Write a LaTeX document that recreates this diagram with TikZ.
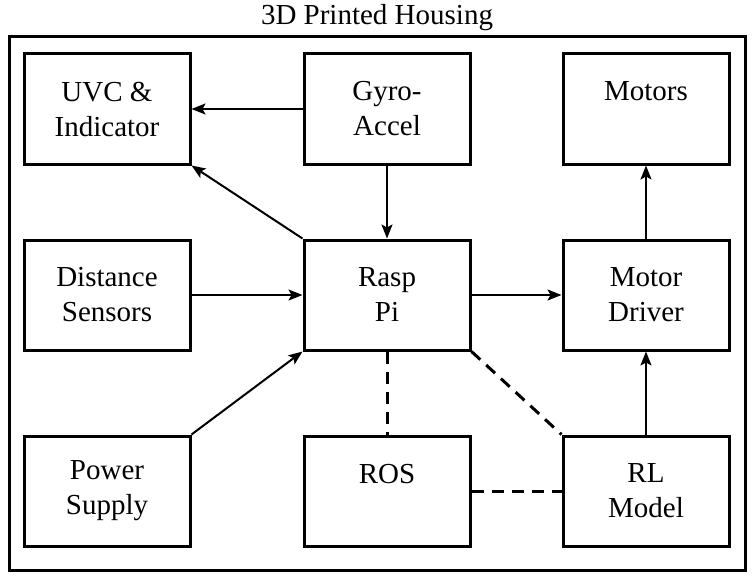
\documentclass[tikz,border=0pt]{standalone}
\usepackage{fontspec}
\setmainfont{Liberation Serif}
\usetikzlibrary{arrows.meta}
\begin{document}
\begin{tikzpicture}[x=1pt,y=-1pt,
  blk/.style={draw, line width=3pt, minimum width=166pt, minimum height=110pt, align=center, font=\fontsize{29}{35}\selectfont, inner sep=0pt},
  arr/.style={line width=2pt, -{Stealth[length=14pt,width=11pt,inset=3pt]}},
  dsh/.style={line width=3pt, dash pattern=on 12pt off 8pt}]
\useasboundingbox (0,0) rectangle (753,578);
\node[font=\fontsize{29}{35}\selectfont] (title) at (377,18) {3D Printed Housing};
\node[draw, line width=3pt, minimum width=736pt, minimum height=533pt, inner sep=0pt] (frame) at (377,303.5) {};
\node[blk] (uvc) at (107,109) {UVC \&\\Indicator};
\node[blk] (gyro) at (387,109) {Gyro-\\Accel};
\node[blk] (motors) at (646,109) {Motors\\\phantom{M}};
\node[blk] (dist) at (107,295) {Distance\\Sensors};
\node[blk] (rasp) at (387,295) {Rasp\\Pi};
\node[blk] (driver) at (646,295) {Motor\\Driver};
\node[blk] (power) at (107,491) {Power\\Supply};
\node[blk] (ros) at (387,491) {ROS\\\phantom{M}};
\node[blk] (rl) at (646,491) {RL\\Model};
\draw[arr] (gyro) -- (uvc);
\draw[arr] (rasp.north west) -- (uvc.south east);
\draw[arr] (gyro) -- (rasp);
\draw[arr] (dist) -- (rasp);
\draw[arr] (power.north east) -- (rasp.south west);
\draw[arr] (rasp) -- (driver);
\draw[arr] (driver) -- (motors);
\draw[arr] (rl) -- (driver);
\draw[dsh] (rasp) -- (ros);
\draw[dsh] (rasp.south east) -- (rl.north west);
\draw[dsh] (ros) -- (rl);
\end{tikzpicture}
\end{document}
